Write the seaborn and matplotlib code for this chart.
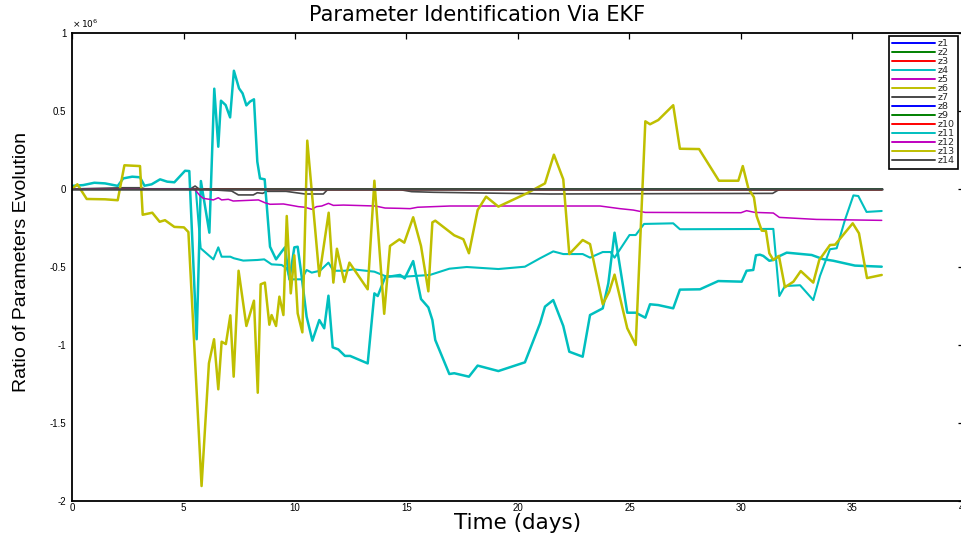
import matplotlib
matplotlib.use("Agg")
import matplotlib.pyplot as plt
import seaborn as sns
import pandas as pd
from matplotlib import font_manager
from matplotlib.ticker import FuncFormatter

# ---------------- data (values in units of 1e6) ----------------
LABELS = ["z1", "z2", "z3", "z4", "z5", "z6", "z7",
          "z8", "z9", "z10", "z11", "z12", "z13", "z14"]
Y_EXPONENT = 6

zero_pts = [(0.0, 0.0), (36.31, 0.0)]

red_pts = [(0.0, 0.0), (5.5, 0.0), (10.0, -0.004), (36.31, -0.006)]

cyan_smooth_pts = [
    (0.0, 0.0), (5.55, 0.0), (5.77, -0.38), (6.34, -0.451), (6.56, -0.374),
    (6.71, -0.434), (7.1, -0.434), (7.26, -0.444), (7.68, -0.459), (8.31, -0.455),
    (8.62, -0.451), (8.95, -0.483), (9.4, -0.487), (9.63, -0.508), (9.78, -0.579),
    (10.3, -0.579), (10.52, -0.519), (10.75, -0.536), (11.12, -0.524), (11.5, -0.472),
    (11.72, -0.524), (12.24, -0.524), (12.61, -0.515), (13.56, -0.53), (14.04, -0.558),
    (14.9, -0.562), (16.05, -0.551), (16.92, -0.511), (17.7, -0.5), (19.12, -0.513),
    (20.31, -0.498), (20.99, -0.444), (21.58, -0.4), (22.03, -0.417), (22.9, -0.417),
    (23.23, -0.44), (23.8, -0.404), (24.15, -0.404), (24.33, -0.44), (25.0, -0.295),
    (25.28, -0.295), (25.65, -0.224), (26.96, -0.22), (27.26, -0.258), (31.45, -0.256),
    (31.72, -0.686), (31.97, -0.622), (32.65, -0.617), (33.24, -0.712), (33.54, -0.558),
    (33.99, -0.386), (34.29, -0.38), (34.66, -0.199), (35.04, -0.041), (35.26, -0.045),
    (35.63, -0.147), (36.31, -0.141),
]

gray_dip_pts = [
    (0.0, 0.0), (2.3, 0.008), (3.1, 0.008), (3.3, 0.0), (5.3, 0.0), (5.52, 0.019),
    (5.7, 0.0), (7.16, -0.013), (7.46, -0.038), (8.13, -0.038), (8.31, -0.024),
    (8.55, -0.028), (8.73, -0.015), (9.6, -0.015), (10.45, -0.032), (11.27, -0.032),
    (11.46, -0.004), (14.7, -0.004), (15.23, -0.017), (16.2, -0.021), (21.43, -0.032),
    (31.42, -0.028), (31.63, -0.01), (31.8, 0.0), (36.31, 0.0),
]

cyan_wild_pts = [
    (0.0, 0.02), (0.5, 0.025), (1.0, 0.04), (1.48, 0.036), (2.05, 0.02), (2.3, 0.068),
    (2.7, 0.079), (3.05, 0.075), (3.25, 0.021), (3.57, 0.03), (3.95, 0.062), (4.27, 0.047),
    (4.59, 0.043), (5.07, 0.117), (5.26, 0.115), (5.59, -0.963), (5.78, 0.051),
    (6.16, -0.28), (6.38, 0.643), (6.56, 0.271), (6.68, 0.566), (6.89, 0.538),
    (7.09, 0.459), (7.26, 0.758), (7.49, 0.645), (7.65, 0.613), (7.82, 0.536),
    (7.98, 0.56), (8.16, 0.575), (8.31, 0.175), (8.43, 0.068), (8.64, 0.062),
    (8.88, -0.37), (9.15, -0.451), (9.4, -0.402), (9.55, -0.374), (9.75, -0.58),
    (9.97, -0.374), (10.12, -0.37), (10.3, -0.562), (10.52, -0.818), (10.78, -0.972),
    (11.09, -0.84), (11.31, -0.893), (11.5, -0.684), (11.69, -1.015), (11.94, -1.028),
    (12.24, -1.07), (12.47, -1.07), (13.26, -1.118), (13.56, -0.669), (13.71, -0.686),
    (14.04, -0.566), (14.71, -0.551), (14.92, -0.573), (15.3, -0.462), (15.65, -0.705),
    (15.98, -0.759), (16.16, -0.84), (16.29, -0.968), (16.92, -1.186), (17.14, -1.181),
    (17.8, -1.203), (18.19, -1.132), (19.12, -1.167), (20.31, -1.111), (20.99, -0.861),
    (21.21, -0.754), (21.58, -0.712), (22.03, -0.878), (22.3, -1.043), (22.9, -1.075),
    (23.23, -0.808), (23.8, -0.765), (24.05, -0.605), (24.33, -0.28), (24.9, -0.793),
    (25.28, -0.793), (25.71, -0.825), (25.92, -0.739), (26.29, -0.744), (26.96, -0.765),
    (27.26, -0.645), (28.16, -0.643), (28.98, -0.59), (30.03, -0.594), (30.25, -0.524),
    (30.55, -0.519), (30.67, -0.425), (30.85, -0.421), (31.0, -0.429), (31.27, -0.46),
    (31.45, -0.455), (31.67, -0.434), (32.05, -0.408), (33.17, -0.423), (33.69, -0.45),
    (34.14, -0.46), (35.11, -0.491), (36.31, -0.498),
]

magenta_pts = [
    (0.0, 0.0), (5.4, 0.0), (5.52, -0.005), (5.74, -0.043), (5.89, -0.06), (6.34, -0.07),
    (6.56, -0.056), (6.71, -0.07), (7.01, -0.066), (7.23, -0.077), (8.36, -0.07),
    (8.65, -0.088), (8.88, -0.098), (9.48, -0.096), (10.0, -0.109), (10.15, -0.113),
    (10.45, -0.117), (10.75, -0.13), (10.97, -0.113), (11.2, -0.109), (11.5, -0.092),
    (11.72, -0.105), (12.17, -0.103), (13.6, -0.109), (14.04, -0.122), (14.71, -0.124),
    (15.16, -0.126), (15.5, -0.117), (16.95, -0.109), (23.68, -0.109), (24.57, -0.126),
    (25.17, -0.135), (25.7, -0.15), (30.0, -0.152), (30.25, -0.139), (30.62, -0.15),
    (31.45, -0.154), (31.72, -0.182), (33.39, -0.195), (36.31, -0.201),
]

yellow_pts = [
    (0.0, 0.0), (0.24, 0.03), (0.66, -0.064), (1.48, -0.066), (2.05, -0.072),
    (2.35, 0.152), (3.05, 0.147), (3.17, -0.165), (3.6, -0.152), (3.93, -0.21),
    (4.17, -0.2), (4.59, -0.243), (5.02, -0.246), (5.22, -0.276), (5.81, -1.904),
    (6.14, -1.117), (6.37, -0.963), (6.56, -1.284), (6.71, -0.979), (6.9, -0.994),
    (7.1, -0.81), (7.25, -1.203), (7.47, -0.524), (7.82, -0.878), (8.16, -0.716),
    (8.33, -1.306), (8.46, -0.611), (8.65, -0.6), (8.85, -0.87), (8.95, -0.808),
    (9.15, -0.878), (9.3, -0.69), (9.48, -0.808), (9.63, -0.173), (9.81, -0.669),
    (9.97, -0.425), (10.12, -0.797), (10.33, -0.919), (10.55, 0.31), (11.09, -0.558),
    (11.51, -0.152), (11.72, -0.6), (11.88, -0.383), (12.21, -0.596), (12.44, -0.472),
    (13.26, -0.643), (13.56, 0.053), (14.0, -0.8), (14.26, -0.365), (14.68, -0.323),
    (14.9, -0.344), (15.3, -0.181), (15.65, -0.365), (15.98, -0.656), (16.16, -0.214),
    (16.29, -0.203), (17.14, -0.297), (17.55, -0.322), (17.8, -0.412), (18.19, -0.135),
    (18.57, -0.049), (19.12, -0.113), (20.39, -0.028), (21.21, 0.036), (21.61, 0.22),
    (22.03, 0.062), (22.3, -0.417), (22.9, -0.327), (23.23, -0.353), (23.8, -0.739),
    (24.09, -0.658), (24.33, -0.549), (24.9, -0.893), (25.28, -1.0), (25.71, 0.434),
    (25.92, 0.415), (26.29, 0.442), (26.96, 0.537), (27.26, 0.258), (28.12, 0.256),
    (29.01, 0.053), (29.88, 0.053), (30.08, 0.147), (30.33, 0.004), (30.58, -0.053),
    (30.7, -0.173), (30.93, -0.267), (31.12, -0.269), (31.27, -0.412), (31.45, -0.455),
    (31.7, -0.429), (31.97, -0.63), (32.35, -0.594), (32.68, -0.526), (33.24, -0.6),
    (33.51, -0.455), (33.99, -0.359), (34.22, -0.357), (35.01, -0.22), (35.29, -0.284),
    (35.65, -0.571), (36.31, -0.551),
]

X_TICKS = [0, 5, 10, 15, 20, 25, 30, 35, 40]
Y_TICKS = [-2, -1.5, -1, -0.5, 0, 0.5, 1]

# ---------------- style ----------------
sns.set_theme(style="white")
plt.rcParams["font.family"] = ["Liberation Sans", "DejaVu Sans"]
plt.rcParams["axes.unicode_minus"] = False

names = {f.name for f in font_manager.fontManager.ttflist}
ylab_font = "Liberation Sans Narrow" if "Liberation Sans Narrow" in names else "Liberation Sans"
ylab_size = 17 if ylab_font == "Liberation Sans Narrow" else 14

BLUE = (0, 0, 1)
GREEN = (0, 0.5, 0)
RED = (1, 0, 0)
CYAN = (0, 0.75, 0.75)
MAGENTA = (0.75, 0, 0.75)
YELLOW = (0.75, 0.75, 0)
GRAY = (0.28, 0.28, 0.28)

series_points = [zero_pts, zero_pts, zero_pts, cyan_smooth_pts, zero_pts, zero_pts,
                 gray_dip_pts, zero_pts, zero_pts, red_pts, cyan_wild_pts,
                 magenta_pts, yellow_pts, zero_pts]
series_colors = [BLUE, GREEN, RED, CYAN, MAGENTA, YELLOW, GRAY,
                 BLUE, GREEN, RED, CYAN, MAGENTA, YELLOW, GRAY]
series_widths = [1.2, 1.2, 1.2, 1.5, 1.2, 1.2, 1.2,
                 1.2, 1.2, 1.2, 1.8, 1.1, 1.8, 1.8]

fig = plt.figure(figsize=(9.62, 5.36), dpi=100)
fig.patch.set_facecolor("white")
ax = fig.add_axes([72 / 962, 35 / 536, 892 / 962, 468 / 536])

for label, pts, color, lw in zip(LABELS, series_points, series_colors, series_widths):
    df = pd.DataFrame(pts, columns=["day", "value"])
    sns.lineplot(data=df, x="day", y="value", ax=ax, color=color, linewidth=lw,
                 label=label, estimator=None, sort=False)

ax.set_xlim(0, 40)
ax.set_ylim(-2, 1)
ax.set_xticks(X_TICKS)
ax.set_yticks(Y_TICKS)
fmt = FuncFormatter(lambda v, p: "%g" % v)
ax.xaxis.set_major_formatter(fmt)
ax.yaxis.set_major_formatter(fmt)
ax.set_xlabel("")
ax.set_ylabel("")
ax.tick_params(axis="both", direction="in", length=4, width=0.9, top=True, right=True,
               labelsize=7, colors="black")
ax.tick_params(axis="x", pad=1.5)
ax.tick_params(axis="y", pad=4)
for sp in ax.spines.values():
    sp.set_visible(True)
    sp.set_color("black")
    sp.set_linewidth(1.3)
ax.grid(False)

ax.text(0.0, 1.006, r"$\times\,10^{%d}$" % Y_EXPONENT, transform=ax.transAxes,
        fontsize=6.5, ha="left", va="bottom", color="black")

fig.text(477 / 962, 1 - 15 / 536, "Parameter Identification Via EKF", ha="center",
         va="center", fontsize=15, family="DejaVu Sans", color="black")
fig.text(518 / 962, 1 - 529 / 536, "Time (days)", ha="center", va="baseline",
         fontsize=15.5, family="DejaVu Sans", color="black")
fig.text(22 / 962, 1 - 262 / 536, "Ratio of Parameters Evolution", ha="center",
         va="center", rotation=90, fontsize=ylab_size, family=ylab_font, color="black")

leg = ax.legend(loc="upper right", bbox_to_anchor=(958 / 962, 1 - 36 / 536),
                bbox_transform=fig.transFigure,
                prop={"family": "DejaVu Sans", "size": 6.8},
                labelspacing=0.0, handlelength=4.5, handletextpad=0.3,
                borderpad=0.35, borderaxespad=0,
                frameon=True, fancybox=False, framealpha=1, edgecolor="black")
leg.get_frame().set_linewidth(1.2)
for ln in leg.get_lines():
    ln.set_linewidth(1.4)

fig.savefig("out.png", dpi=100, facecolor="white")
